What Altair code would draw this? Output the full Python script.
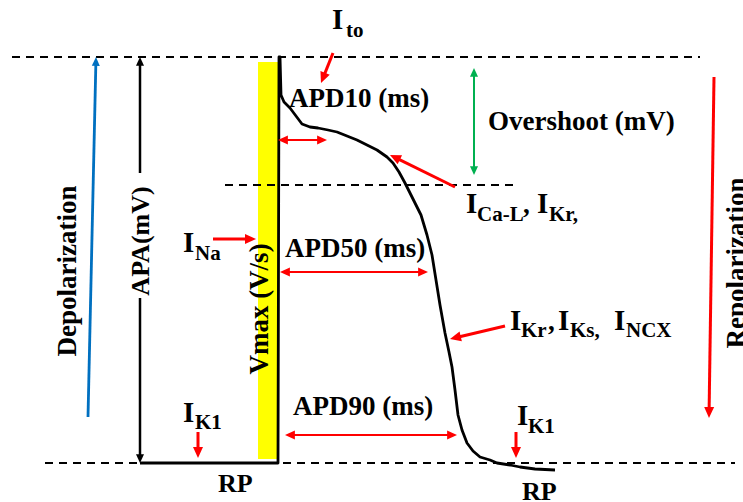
import math
import altair as alt
import pandas as pd

W, H = 743, 502

# ---- action potential trace (diagram units, y grows downward) ----
trace_x = [140, 278, 279, 280, 281, 284, 290, 296, 302, 310, 318, 328, 337, 347, 357,
           367, 377, 387, 393, 399, 405, 410, 415, 421, 427, 432, 436, 440, 445, 449,
           452, 455, 458, 462, 467, 473, 480, 490, 497, 510, 520, 535, 555]
trace_y = [463, 463, 57, 57, 95, 102, 108, 116, 124, 127, 128, 130, 132, 136, 140,
           145, 150, 157, 163, 172, 183, 193, 203, 215, 235, 255, 280, 305, 333, 352,
           367, 390, 415, 430, 443, 451, 457, 460, 463, 465, 467, 469, 470]

# ---- reference (dashed) levels ----
dash_x1 = [12, 45, 225]
dash_x2 = [700, 735, 515]
dash_y = [57, 463, 185]

# ---- Vmax bar ----
bar_x = [258]
bar_x2 = [278]
bar_y = [62]
bar_y2 = [459]

# ---- arrows ----
arrow_name = ["Ito", "ICaL", "INa", "IKr", "IK1a", "IK1b", "Repol", "Depol",
              "APD10", "APD50", "APD90", "Overshoot", "APAtop", "APAbottom"]
arrow_x1 = [333, 455, 213, 505, 198, 516, 714, 88, 278, 280, 285, 474, 140, 140]
arrow_y1 = [53, 187, 239, 326, 432, 432, 77, 417, 140, 272, 435, 175, 173, 298]
arrow_x2 = [321, 390, 256, 450, 198, 516, 709, 96, 327, 428, 457, 474, 140, 140]
arrow_y2 = [83, 155, 239, 339, 458, 458, 418, 57, 140, 272, 435, 68, 57, 463]
arrow_color = ["#FF0000"] * 7 + ["#0070C0"] + ["#FF0000"] * 3 + ["#00B050"] + ["#000000"] * 2
arrow_both = [False] * 8 + [True] * 4 + [False] * 2
arrow_width = [3, 3, 3, 3, 3, 3, 3, 2.8, 2, 2, 2, 2, 2.5, 2.5]
arrow_head = [10, 10, 10, 10, 10, 10, 10, 8, 9, 9, 9, 8, 8, 8]  # head width

# ---- horizontal labels (left, baseline) ----
lab_text = ["I", "to", "APD10 (ms)", "Overshoot (mV)",
            "I", "Ca-L", ",", "I", "Kr,",
            "I", "Na", "APD50 (ms)",
            "I", "Kr", ",", "I", "Ks,", "I", "NCX",
            "APD90 (ms)", "I", "K1", "I", "K1", "RP", "RP"]
lab_x = [332, 346, 289, 488,
         466, 477, 523, 537, 549,
         183, 195, 285,
         510, 521, 548, 558, 570, 614, 626,
         293, 183, 195, 517, 528, 218, 522]
lab_y = [29, 37, 107, 130,
         213, 221, 213, 213, 221,
         252, 260, 257,
         330, 337, 330, 330, 337, 330, 337,
         415, 422, 429, 425, 433, 492, 500]
lab_size = [29, 21, 27, 27,
            29, 21, 27, 29, 21,
            29, 21, 27,
            29, 21, 27, 29, 21, 29, 21,
            27, 29, 21, 29, 21, 26, 26]

# ---- vertical labels (centre) ----
vlab_text = ["Depolarization", "APA(mV)", "Vmax (V/s)", "Repolarization"]
vlab_x = [68, 141, 260, 737]
vlab_y = [271, 241, 309, 263]
vlab_size = [27, 26, 27, 27]

# ---------------------------------------------------------------
xs = alt.Scale(domain=[0, W], nice=False, zero=False)
ys = alt.Scale(domain=[0, H], nice=False, zero=False, reverse=True)
FONT = "'Liberation Serif', 'Times New Roman', Times, serif"

trace = pd.DataFrame({"x": trace_x, "y": trace_y, "i": range(len(trace_x))})
dashes = pd.DataFrame({"x": dash_x1, "x2": dash_x2, "y": dash_y})
bar = pd.DataFrame({"x": bar_x, "x2": bar_x2, "y": bar_y, "y2": bar_y2})

shafts, heads = [], []
for n, x1, y1, x2, y2, c, both, w, hw in zip(arrow_name, arrow_x1, arrow_y1, arrow_x2,
                                            arrow_y2, arrow_color, arrow_both,
                                            arrow_width, arrow_head):
    dx, dy = x2 - x1, y2 - y1
    L = math.hypot(dx, dy)
    ux, uy = dx / L, dy / L
    s = hw / 2.0
    back = s * 2.2 * 0.7
    sx1, sy1 = (x1 + ux * back, y1 + uy * back) if both else (x1, y1)
    sx2, sy2 = x2 - ux * back, y2 - uy * back
    shafts.append({"x": sx1, "y": sy1, "x2": sx2, "y2": sy2, "c": c, "w": w})
    ang = (math.degrees(math.atan2(dx, -dy)) + 360) % 360
    heads.append({"x": x2, "y": y2, "a": ang, "c": c, "s": (2 * s) ** 2})
    if both:
        heads.append({"x": x1, "y": y1, "a": (ang + 180) % 360, "c": c, "s": (2 * s) ** 2})
shafts = pd.DataFrame(shafts)
heads = pd.DataFrame(heads)

labels = pd.DataFrame({"t": lab_text, "x": lab_x, "y": lab_y, "s": lab_size})
vlabels = pd.DataFrame({"t": vlab_text, "x": vlab_x, "y": vlab_y, "s": vlab_size})

X = lambda f="x": alt.X(f + ":Q", scale=xs, axis=None)
Y = lambda f="y": alt.Y(f + ":Q", scale=ys, axis=None)

bar_layer = alt.Chart(bar).mark_rect(color="#FFFF00").encode(
    x=X(), x2="x2:Q", y=Y(), y2="y2:Q")

dash_layer = alt.Chart(dashes).mark_rule(
    color="black", strokeWidth=2.2, strokeDash=[8, 6]).encode(x=X(), x2="x2:Q", y=Y())

trace_layer = alt.Chart(trace).mark_line(
    color="black", strokeWidth=2.8, strokeJoin="round").encode(x=X(), y=Y(), order="i:Q")

shaft_layer = alt.Chart(shafts).mark_rule(strokeCap="butt").encode(
    x=X(), x2="x2:Q", y=Y(), y2="y2:Q",
    color=alt.Color("c:N", scale=None),
    strokeWidth=alt.StrokeWidth("w:Q", scale=None))

HEAD = "M0,0L-1,2.2L1,2.2Z"
head_layer = alt.Chart(heads).mark_point(
    shape=HEAD, filled=True, opacity=1, strokeWidth=0).encode(
    x=X(), y=Y(),
    color=alt.Color("c:N", scale=None),
    size=alt.Size("s:Q", scale=None),
    angle=alt.Angle("a:Q", scale=None))

label_layer = alt.Chart(labels).mark_text(
    align="left", baseline="alphabetic", font=FONT, fontWeight="bold",
    color="black").encode(
    x=X(), y=Y(), text="t:N", size=alt.Size("s:Q", scale=None))

vlabel_layer = alt.Chart(vlabels).mark_text(
    align="center", baseline="middle", font=FONT, fontWeight="bold",
    color="black", angle=270).encode(
    x=X(), y=Y(), text="t:N", size=alt.Size("s:Q", scale=None))

chart = alt.layer(
    bar_layer, dash_layer, trace_layer, shaft_layer, head_layer, label_layer, vlabel_layer
).properties(
    width=W, height=H, padding=0, background="white",
    autosize=alt.AutoSizeParams(type="none")
).configure_view(stroke=None)

chart.save("out.html", embed_options={"renderer": "svg", "actions": False})
